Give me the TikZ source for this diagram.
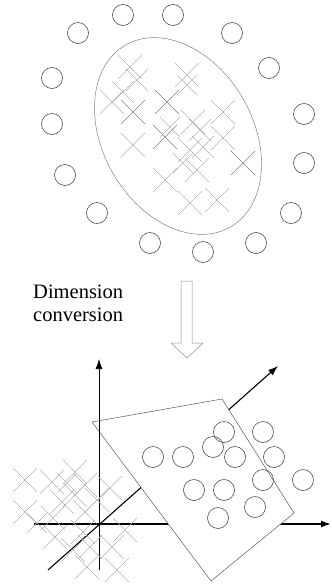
\documentclass[tikz,border=0pt]{standalone}
\usepackage{fontspec}
\setmainfont{Liberation Serif}
\usetikzlibrary{arrows.meta}

\begin{document}
\begin{tikzpicture}[x=1pt, y=-1pt,
      dot/.style={draw=black!70, line width=0.6pt},
      crs/.style={draw=black!30, line width=0.4pt},
      crsd/.style={draw=black!50, line width=0.5pt},
      ax/.style={-{Latex[length=10pt, width=7pt]}, draw=black, line width=0.7pt}]
    \useasboundingbox (0,0) rectangle (332,584);
    % ring of samples round the cluster
    \foreach \x/\y in {123/15, 173/15, 78/33, 232/33, 269/68, 52/78, 304/114,
        52/124, 304/163, 65/175, 291/213, 97/213, 150/243, 203/252, 256/243}
      \draw[dot] (\x,\y) circle (10.5);
    \draw[draw=black!50, line width=0.5pt, rotate around={30:(178,136)}]
      (178,136) ellipse [x radius=75, y radius=105];
    \foreach \x/\y/\s in {130/67/12, 137/80/11, 112/102/12, 123/92/11, 187/75/12,
        187/85/10, 133/145/12, 193/122/12, 200/130/11, 223/112/12, 223/138/12,
        190/150/12, 197/170/12, 165/180/12, 190/203/12, 217/200/12, 170/127/10,
        203/147/11, 183/163/10}
      \draw[crs] (\x-\s,\y-\s) -- (\x+\s,\y+\s) (\x-\s,\y+\s) -- (\x+\s,\y-\s);
    \foreach \x/\y/\s in {133/112/12, 167/102/12, 165/137/12, 243/163/12}
      \draw[crsd] (\x-\s,\y-\s) -- (\x+\s,\y+\s) (\x-\s,\y+\s) -- (\x+\s,\y-\s);

    % conversion step
    \node[anchor=north west, inner sep=0, align=left, font=\fontsize{20.5}{23}\selectfont]
      (lbl) at (33,285) {Dimension\\conversion};
    \draw[draw=black!45, line width=0.5pt] (181,281) -- (192,281) -- (192,343) -- (203,343)
      -- (187,358) -- (171,343) -- (181,343) -- cycle;

    % axes and plane
    \coordinate (o) at (99,524);
    \coordinate (xs) at (34,524);
    \coordinate (xe) at (331,524);
    \coordinate (ys) at (99,570);
    \coordinate (ye) at (99,359);
    \coordinate (zs) at (48,570);
    \coordinate (ze) at (278,366);
    \draw[ax, line width=1.6pt] (xs) -- (xe);
    \draw[ax, line width=1.1pt] (zs) -- (ze);
    \draw[fill=white, draw=black!65, line width=0.5pt]
      (92,422) -- (222,399) -- (294,513) -- (211,581) -- cycle;
    \draw[ax] (ys) -- (ye);
    \foreach \x/\y in {153/457, 183/457, 224/432, 213/447, 235/457, 263/432, 274/457,
        194/490, 224/490, 263/480, 303/480, 255/507, 218/518}
      \draw[dot] (\x,\y) circle (10.5);
    \foreach \x/\y/\s in {25/480/12, 25/512/12, 52/482/12, 75/472/12, 62/502/12,
        75/495/12, 85/485/12, 110/488/12, 97/500/12, 53/518/12, 85/512/12, 55/537/12,
        83/532/12, 90/547/12, 125/530/12, 112/547/12, 73/550/12, 87/567/12,
        117/570/12, 37/523/10, 67/483/10}
      \draw[crs] (\x-\s,\y-\s) -- (\x+\s,\y+\s) (\x-\s,\y+\s) -- (\x+\s,\y-\s);
\end{tikzpicture}
\end{document}
